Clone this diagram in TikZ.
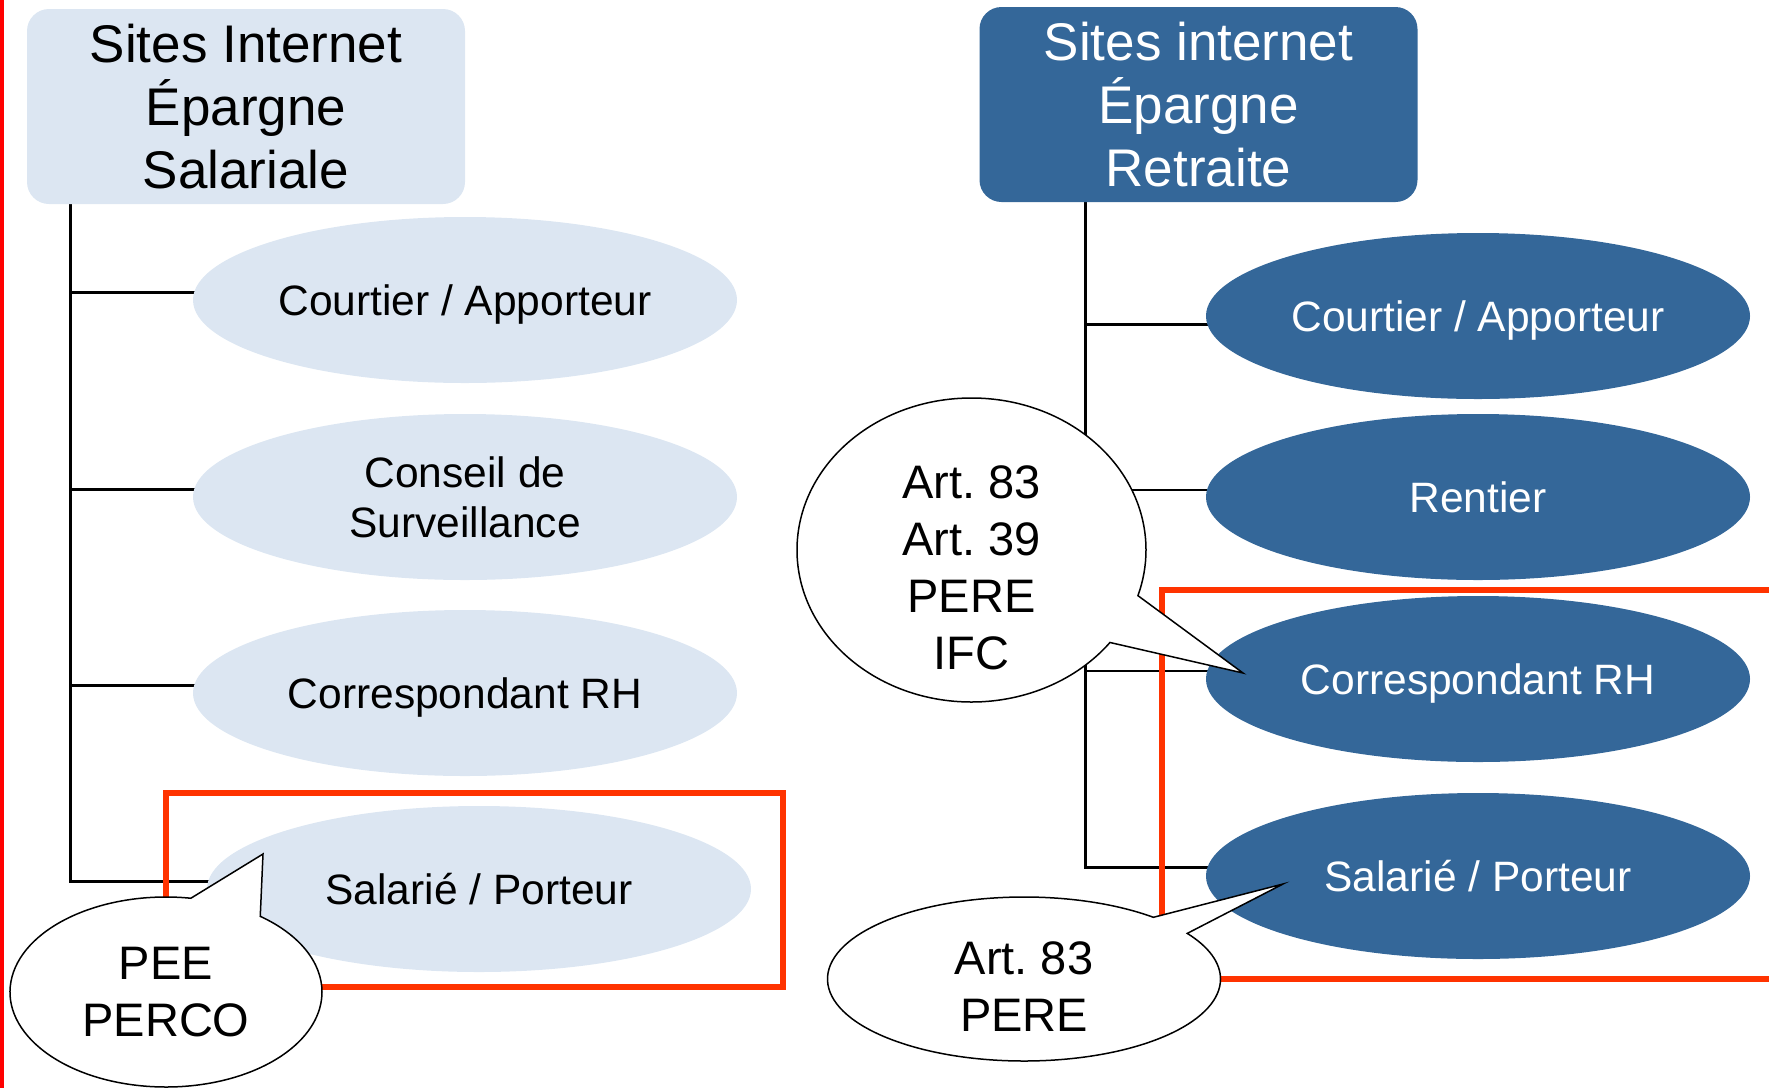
\documentclass[tikz,border=0pt]{standalone}
\usepackage{fontspec}
\setmainfont{Liberation Sans}
\usetikzlibrary{shapes.geometric,shapes.callouts,backgrounds}
\definecolor{paleblue}{RGB}{220,230,242}
\definecolor{deepblue}{RGB}{52,103,153}
\definecolor{framered}{RGB}{255,51,0}
\tikzset{
  headbox/.style={rectangle, rounded corners=22pt, minimum width=438pt, minimum height=195pt, align=center, font=\fontsize{53}{63}\selectfont},
  role/.style={ellipse, minimum width=544pt, minimum height=166pt, text depth=0pt, align=center, font=\fontsize{42.5}{50}\selectfont},
  bubble/.style={ellipse callout, draw=black, fill=white, line width=1.5pt},
  bubbletext/.style={align=center, font=\fontsize{47}{57}\selectfont},
  twig/.style={line width=3pt},
  hairtwig/.style={line width=1.2pt},
  frame/.style={draw=framered, line width=6pt},
}
\begin{document}
\begin{tikzpicture}[x=1pt,y=-1pt]
    \useasboundingbox (0,0) rectangle (1769,1088);
    \clip (0,0) rectangle (1769,1088);
    \fill[red] (0,0) rectangle (4,1088);
    % savings side
    \node at (246,106.5) [headbox, fill=paleblue] (siteES) {Sites Internet\\Épargne\\Salariale};
    \node at (465,300) [role, fill=paleblue] (courES) {Courtier / Apporteur};
    \node at (465,497) [role, fill=paleblue] (consES) {Conseil de\\Surveillance};
    \node at (465,693) [role, fill=paleblue] (corrES) {Correspondant RH};
    \node at (479,889) [role, fill=paleblue] (salES) {Salarié / Porteur};
    % retirement side
    \node at (1198.5,104.5) [headbox, fill=deepblue, text=white] (siteER) {Sites internet\\Épargne\\Retraite};
    \node at (1478,316) [role, fill=deepblue, text=white] (courER) {Courtier / Apporteur};
    \node at (1478,497) [role, fill=deepblue, text=white] (rentER) {Rentier};
    \node at (1478,679) [role, fill=deepblue, text=white] (corrER) {Correspondant RH};
    \node at (1478,876) [role, fill=deepblue, text=white] (salER) {Salarié / Porteur};
    % trunks behind the boxes
    \begin{scope}[on background layer]
        \coordinate (trunkES) at ([xshift=44pt]siteES.south west);
        \coordinate (trunkER) at ([xshift=106pt]siteER.south west);
        \foreach \n in {courES,consES,corrES,salES}
            \draw[twig] (trunkES) |- ([yshift=8pt]\n.center);
        \draw[twig] (trunkER) |- ([yshift=-8pt]courER.center);
        \draw[twig] (trunkER) |- ([yshift=9pt]salER.center);
        \draw[hairtwig] (trunkER) |- ([yshift=7pt]rentER.center);
        \draw[hairtwig] (trunkER) |- ([yshift=8pt]corrER.center);
    \end{scope}
    \draw[frame] (166,793) rectangle (783,987);
    \draw[frame] (1162,590) rectangle (1800,979);
    % callouts
    \coordinate (peeTip) at (263,854);
    \node at (166,992) [bubble, bubbletext, minimum width=312pt, minimum height=190pt,
        callout absolute pointer={(peeTip)}, callout pointer arc=28] (pee) {PEE\\PERCO};
    \coordinate (artTipA) at (1243,673);
    \node at (971.5,550) [bubble, minimum width=349pt, minimum height=304pt,
        callout absolute pointer={(artTipA)}, callout pointer arc=20] (artA) {};
    \node at (971.5,568) [bubbletext] (artAtext) {Art.~83\\Art.~39\\PERE\\IFC};
    \coordinate (artTipB) at (1283,884);
    \node at (1024,979) [bubble, minimum width=393pt, minimum height=164pt,
        callout absolute pointer={(artTipB)}, callout pointer arc=15] (artB) {};
    \node at (1024,987) [bubbletext] (artBtext) {Art.~83\\PERE};
\end{tikzpicture}
\end{document}
